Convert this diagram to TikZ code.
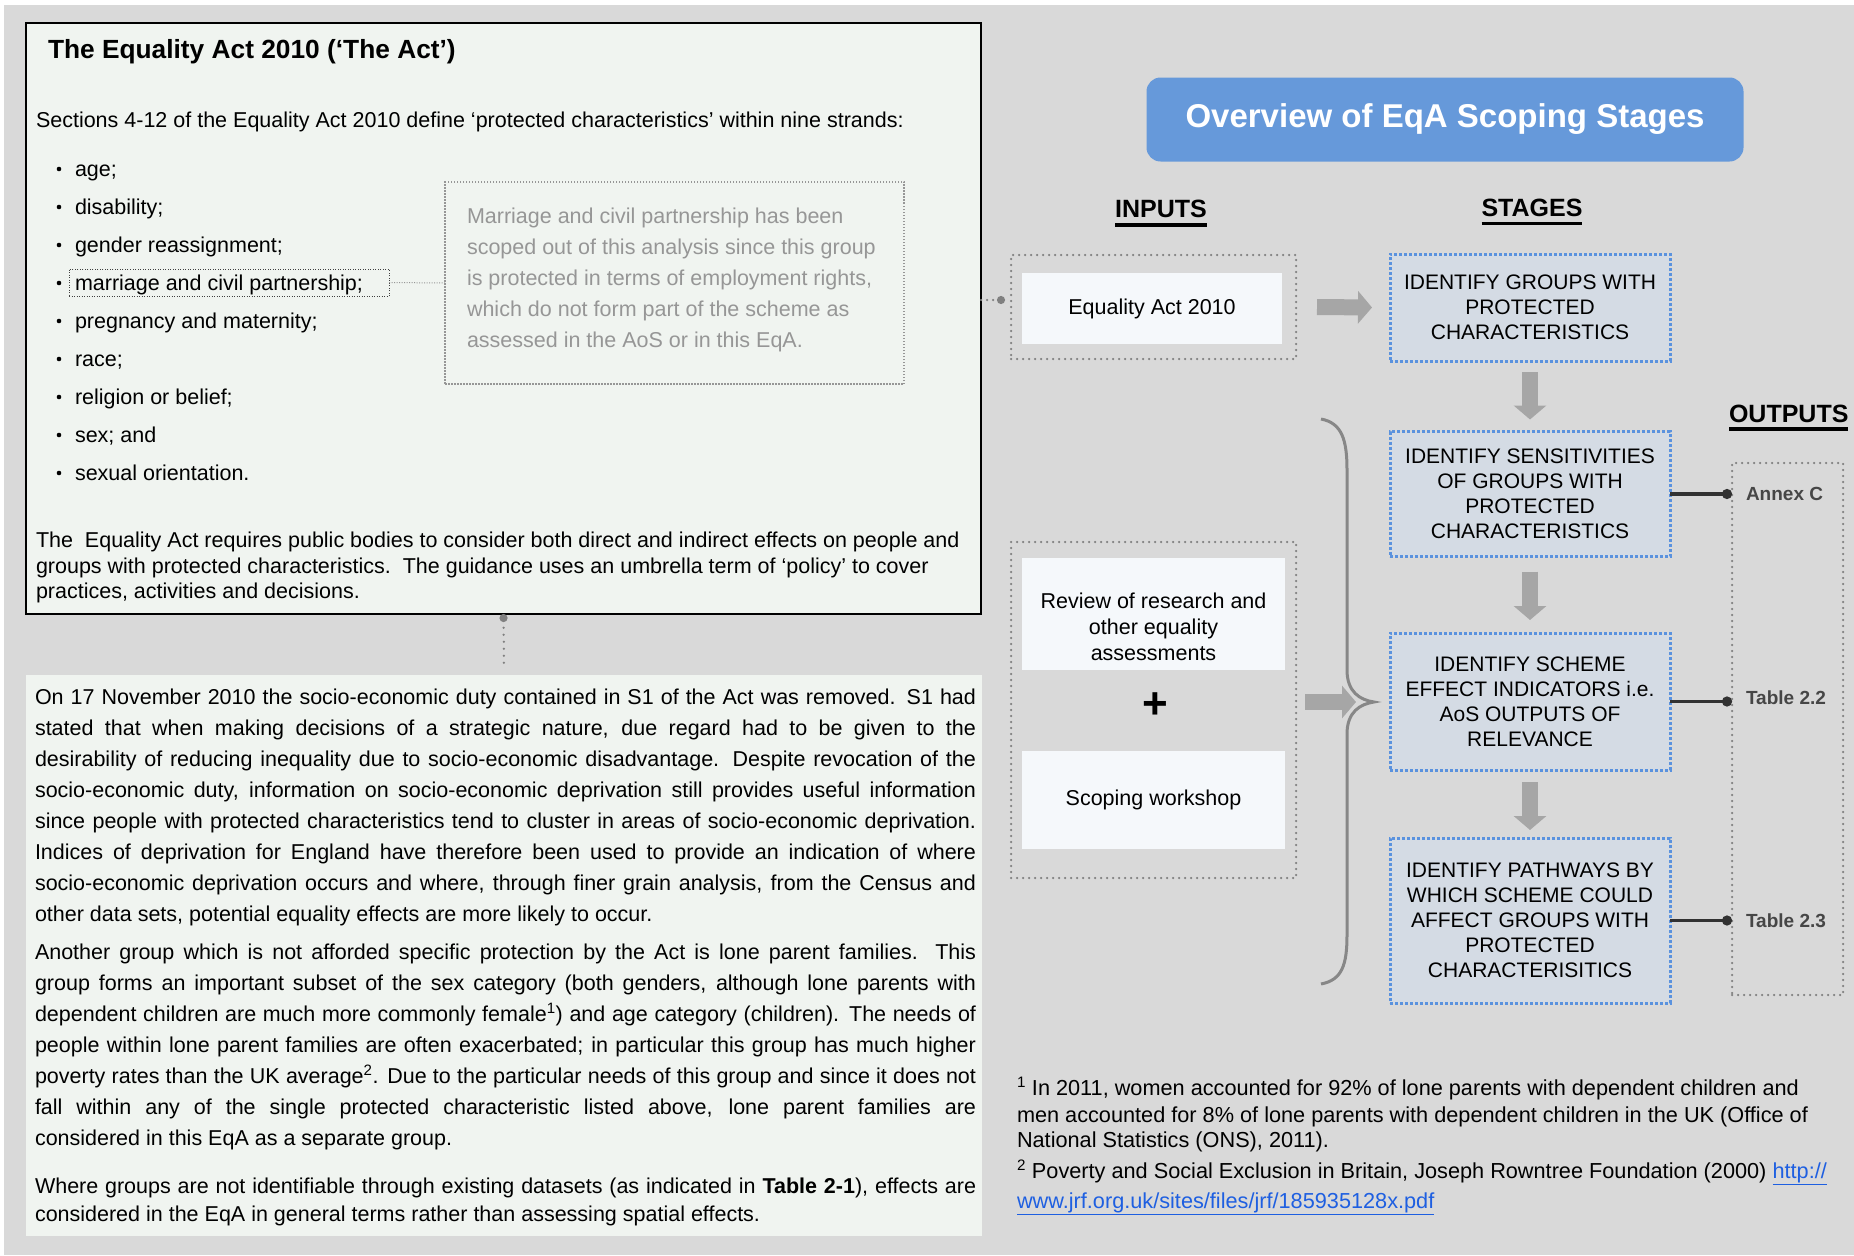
\documentclass[tikz,border=0pt]{standalone}
\usepackage{fontspec}
\setmainfont{Liberation Sans}
\usetikzlibrary{arrows.meta,calc}
\definecolor{bggray}{RGB}{217,217,217}
\definecolor{panel}{RGB}{240,244,240}
\definecolor{stagefill}{RGB}{212,219,228}
\definecolor{stageline}{RGB}{90,146,222}
\definecolor{inwhite}{RGB}{245,248,251}
\definecolor{arrowgray}{RGB}{166,166,166}
\definecolor{dotgray}{RGB}{128,128,128}
\definecolor{titleblue}{RGB}{102,153,218}
\definecolor{notegray}{RGB}{150,150,150}
\definecolor{linkblue}{RGB}{30,95,225}
\definecolor{conngray}{RGB}{50,50,50}
\definecolor{labelgray}{RGB}{70,70,70}
\definecolor{bracegray}{RGB}{135,135,135}
\newcommand\pjust[3]{\node[body] (#1) at (35,#2) {\makebox[941pt][s]{#3}};}
\newcommand\pleft[3]{\node[body] (#1) at (35,#2) {#3};}
\begin{document}
\begin{tikzpicture}[x=1pt,y=-1pt,
 every node/.style={inner sep=0pt,outer sep=0pt},
 body/.style={anchor=base west,font=\fontsize{21.5}{31}\selectfont},
 notetxt/.style={anchor=base west,font=\fontsize{21.5}{31}\selectfont,text=notegray},
 stagebox/.style={draw=stageline,line width=3pt,dash pattern=on 3pt off 2pt,fill=stagefill,minimum width=280pt,align=center,font=\fontsize{21}{25}\selectfont},
 dotbox/.style={draw=dotgray,line width=2.5pt,dash pattern=on 0pt off 6pt,line cap=round},
 whitebox/.style={fill=inwhite,minimum width=263pt},
 intxt/.style={align=center,font=\fontsize{21.5}{26}\selectfont},
 blockarrow/.style={draw=arrowgray,line width=16pt,-{Triangle[width=32pt,length=14pt]}},
 outconn/.style={draw=conngray,line width=3.5pt,-{Circle[length=10pt]}},
 dotconn/.style={draw=dotgray,line width=2.5pt,dash pattern=on 0pt off 6pt,line cap=round},
 header/.style={font=\bfseries\fontsize{25}{30}\selectfont,anchor=base},
 outlabel/.style={font=\bfseries\fontsize{19}{22}\selectfont,text=labelgray,anchor=base west},
 foot/.style={anchor=base west,font=\fontsize{21.7}{26}\selectfont},
]
\useasboundingbox (0,0) rectangle (1854,1255);
\fill[white] (0,0) rectangle (1854,1255);
\fill[bggray] (4,5) rectangle (1854,1255);

% ---------- top-left panel ----------
\node[draw=black,line width=1.8pt,fill=panel,minimum width=955pt,minimum height=591pt] (toppanel) at (503.5,318.5) {};
\node[anchor=base west,font=\bfseries\fontsize{26.3}{30}\selectfont] (ttitle) at (48,58.5) {The Equality Act 2010 (‘The Act’)};
\node[body] (sect) at (36,127) {Sections 4-12 of the Equality Act 2010 define ‘protected characteristics’ within nine strands:};

\foreach \i/\t in {0/age;,1/disability;,2/gender reassignment;,3/marriage and civil partnership;,4/pregnancy and maternity;,5/race;,6/religion or belief;,7/sex; and,8/sexual orientation.}{
  \fill (59,{176+38*\i-7}) circle (2.3);
  \node[body] (b\i) at (75,{176+38*\i}) {\t};
}
\node[draw=black!75,line width=1pt,dash pattern=on 1pt off 1.5pt,minimum width=320pt,minimum height=27pt] (mbox) at (229,282.5) {};
\node[draw=notegray,line width=1.2pt,dash pattern=on 1.5pt off 1.5pt,minimum width=459pt,minimum height=202pt] (note) at (674.5,283) {};
\draw[notegray,line width=1pt,dash pattern=on 1pt off 1.5pt] (mbox.east) -- (note.west);
\node[notetxt] (n1) at (467,223) {Marriage and civil partnership has been};
\node[notetxt] (n2) at (467,254) {scoped out of this analysis since this group};
\node[notetxt] (n3) at (467,285) {is protected in terms of employment rights,};
\node[notetxt] (n4) at (467,316) {which do not form part of the scheme as};
\node[notetxt] (n5) at (467,347) {assessed in the AoS or in this EqA.};

\node[body] (t1) at (36,547.5) {The\ \ Equality Act requires public bodies to consider both direct and indirect effects on people and};
\node[body] (t2) at (36,573) {groups with protected characteristics.\ \ The guidance uses an umbrella term of ‘policy’ to cover};
\node[body] (t3) at (36,598.5) {practices, activities and decisions.};

% ---------- bottom-left panel ----------
\node[fill=panel,minimum width=956pt,minimum height=561pt] (botpanel) at (504,955.5) {};
\draw[dotconn,dash pattern=on 0pt off 7pt,{Circle[length=8pt]}-] (toppanel.south) -- ([yshift=8pt]botpanel.north);

\pjust{p1a}{704}{On 17 November 2010 the socio-economic duty contained in S1 of the Act was removed. S1 had}
\pjust{p1b}{735}{stated that when making decisions of a strategic nature, due regard had to be given to the}
\pjust{p1c}{766}{desirability of reducing inequality due to socio-economic disadvantage. Despite revocation of the}
\pjust{p1d}{797}{socio-economic duty, information on socio-economic deprivation still provides useful information}
\pjust{p1e}{828}{since people with protected characteristics tend to cluster in areas of socio-economic deprivation.}
\pjust{p1f}{859}{Indices of deprivation for England have therefore been used to provide an indication of where}
\pjust{p1g}{890}{socio-economic deprivation occurs and where, through finer grain analysis, from the Census and}
\pleft{p1h}{921}{other data sets, potential equality effects are more likely to occur.}

\pjust{p2a}{959}{Another group which is not afforded specific protection by the Act is lone parent families. This}
\pjust{p2b}{990}{group forms an important subset of the sex category (both genders, although lone parents with}
\pjust{p2c}{1021}{dependent children are much more commonly female\textsuperscript{1}) and age category (children). The needs of}
\pjust{p2d}{1052}{people within lone parent families are often exacerbated; in particular this group has much higher}
\pjust{p2e}{1083}{poverty rates than the UK average\textsuperscript{2}. Due to the particular needs of this group and since it does not}
\pjust{p2f}{1114}{fall within any of the single protected characteristic listed above, lone parent families are}
\pleft{p2g}{1145}{considered in this EqA as a separate group.}

\pjust{p3a}{1193}{Where groups are not identifiable through existing datasets (as indicated in \textbf{Table 2-1}), effects are}
\pleft{p3b}{1221}{considered in the EqA in general terms rather than assessing spatial effects.}

% ---------- right side ----------
\node[fill=titleblue,rounded corners=14pt,minimum width=597pt,minimum height=84pt,text=white,font=\bfseries\fontsize{33}{38}\selectfont] (title) at (1445,119.5) {Overview of EqA Scoping Stages};

\node[header] (hin) at (1161,217.5) {INPUTS};
\draw[line width=3.5pt] ([yshift=-7.5pt]hin.base west) -- ([yshift=-7.5pt]hin.base east);
\node[header] (hst) at (1532,216) {STAGES};
\draw[line width=3.5pt] ([yshift=-7.5pt]hst.base west) -- ([yshift=-7.5pt]hst.base east);
\node[header,anchor=base west] (hout) at (1729,422) {OUTPUTS};
\draw[line width=3.5pt] ([yshift=-7pt]hout.base west) -- ([yshift=-7pt]hout.base east);

% inputs
\node[dotbox,minimum width=285pt,minimum height=104pt] (in1) at (1153.5,307) {};
\node[whitebox,minimum width=260pt,minimum height=71pt,intxt] (in1t) at (1152,308.5) {Equality Act 2010};
\node[dotbox,minimum width=285pt,minimum height=336pt] (in2) at (1153.5,710) {};
\node[whitebox,minimum height=112pt] (in2a) at (1153.5,614) {};
\node[intxt] (in2at) at (1153.5,627) {Review of research and\\other equality\\assessments};
\node[font=\bfseries\fontsize{44}{44}\selectfont] (plus) at (1155,706) {+};
\node[whitebox,minimum height=98pt,intxt] (in2b) at (1153.5,800) {Scoping workshop};

% connector from top panel to inputs
\path ([xshift=-6pt,yshift=7pt]in1.west) coordinate (c1end);
\draw[dotconn,-{Circle[length=8pt]}] (toppanel.east |- c1end) -- (c1end);

% stages
\node[stagebox,minimum height=107pt] (s1) at (1530,307.5) {IDENTIFY GROUPS WITH\\PROTECTED\\CHARACTERISTICS};
\node[stagebox,minimum height=125pt] (s2) at (1530,494) {IDENTIFY SENSITIVITIES\\OF GROUPS WITH\\PROTECTED\\CHARACTERISTICS};
\node[stagebox,minimum height=137pt] (s3) at (1530,701.5) {IDENTIFY SCHEME\\EFFECT INDICATORS i.e.\\AoS OUTPUTS OF\\RELEVANCE};
\node[stagebox,minimum height=165pt] (s4) at (1530,920.5) {IDENTIFY PATHWAYS BY\\WHICH SCHEME COULD\\AFFECT GROUPS WITH\\PROTECTED\\CHARACTERISITICS};

% brace
\coordinate (bracetip) at (1374,702);
\draw[bracegray,line width=3pt] (1321,419) .. controls (1342,423) and (1347,440) .. (1347,470) -- (1347,670) .. controls (1347,692) and (1360,700) .. (bracetip) .. controls (1360,704) and (1347,712) .. (1347,734) -- (1347,935) .. controls (1347,965) and (1342,980) .. (1321,984);

% block arrows
\draw[blockarrow] ([xshift=21pt]in1.east) -- ([xshift=-18pt]s1.west);
\path (in2.east |- bracetip) ++(9,0) coordinate (a2s);
\path (bracetip) ++(-18,0) coordinate (a2e);
\draw[blockarrow] (a2s) -- (a2e);
\draw[blockarrow] ([yshift=-11pt]s1.south) -- ([yshift=12pt]s2.north);
\draw[blockarrow] ([yshift=-15pt]s2.south) -- ([yshift=13pt]s3.north);
\draw[blockarrow] ([yshift=-12pt]s3.south) -- ([yshift=8pt]s4.north);

% outputs
\node[dotbox,minimum width=111pt,minimum height=532pt] (out) at (1787.5,729) {};
\draw[outconn] (s2.east) -- (s2.east -| out.west);
\draw[outconn] (s3.east) -- (s3.east -| out.west);
\draw[outconn] (s4.east) -- (s4.east -| out.west);
\node[outlabel] (o1) at (1746,500) {Annex C};
\node[outlabel] (o2) at (1746,704) {Table 2.2};
\node[outlabel] (o3) at (1746,927) {Table 2.3};

% footnotes
\node[foot] (f1) at (1017,1095) {\textsuperscript{1} In 2011, women accounted for 92\% of lone parents with dependent children and};
\node[foot] (f2) at (1017,1122) {men accounted for 8\% of lone parents with dependent children in the UK (Office of};
\node[foot] (f3) at (1017,1147) {National Statistics (ONS), 2011).};
\node[foot] (f4) at (1017,1178) {\textsuperscript{2} Poverty and Social Exclusion in Britain, Joseph Rowntree Foundation (2000) \textcolor{linkblue}{\underline{http://}}};
\node[foot] (f5) at (1017,1208) {\textcolor{linkblue}{\underline{www.jrf.org.uk/sites/files/jrf/185935128x.pdf}}};
\end{tikzpicture}
\end{document}
